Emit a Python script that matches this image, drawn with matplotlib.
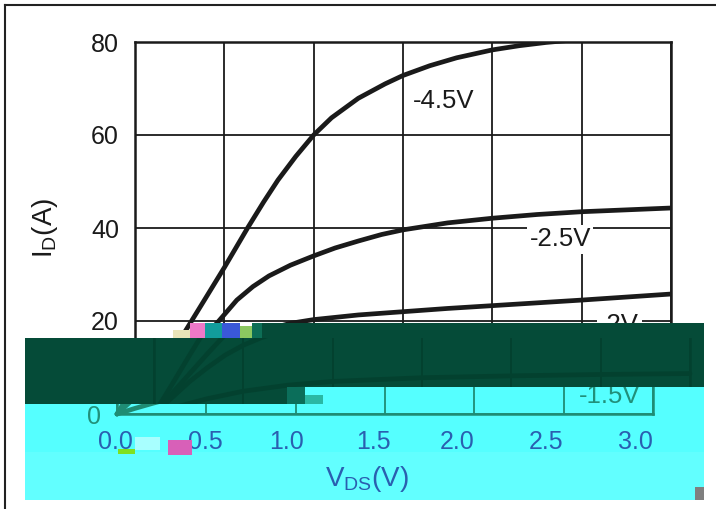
import matplotlib
matplotlib.use('Agg')
import matplotlib.pyplot as plt
from matplotlib.patches import Polygon, Rectangle
from matplotlib.lines import Line2D
from matplotlib.transforms import Bbox, TransformedBbox, ScaledTranslation

# output characteristics, I_D vs V_DS for each V_GS
vds_45 = [0, 0.1, 0.2, 0.31, 0.39, 0.5, 0.63, 0.72, 0.8, 0.9, 1.0, 1.1, 1.25, 1.4, 1.5, 1.65, 1.8, 2.0,
          2.15, 2.3, 2.5, 2.75, 3.0]
id_45 = [0, 6.3, 12.7, 19.6, 24.6, 31.5, 40, 45.6, 50.3, 55.4, 60, 63.7, 67.9, 71.0, 72.8, 74.9, 76.6, 78.3,
         79.2, 79.9, 80.6, 81.5, 82.3]

vds_25 = [0, 0.1, 0.2, 0.3, 0.46, 0.57, 0.66, 0.75, 0.87, 1.0, 1.12, 1.25, 1.38, 1.5, 1.75, 2.0, 2.25, 2.5,
          2.75, 3.0]
id_25 = [0, 4.4, 8.7, 13, 19.6, 24.5, 27.4, 29.7, 32.0, 34.0, 35.7, 37.2, 38.6, 39.6, 41.1, 42.1, 42.9, 43.5,
         43.9, 44.3]

vds_20 = [0, 0.1, 0.2, 0.3, 0.4, 0.5, 0.6, 0.75, 0.87, 1.0, 1.25, 1.5, 1.75, 2.0, 2.5, 3.0]
id_20 = [0, 3.5, 7, 10, 12.7, 14.8, 16.4, 18.3, 19.5, 20.3, 21.3, 22.0, 22.7, 23.3, 24.5, 25.8]

vds_15 = [0, 0.1, 0.2, 0.3, 0.5, 0.75, 1.0, 1.5, 2.0, 2.5, 3.0]
id_15 = [0, 1.2, 2.3, 3.3, 4.9, 6.2, 7.0, 7.8, 8.2, 8.5, 8.7]

curves = [(vds_45, id_45), (vds_25, id_25), (vds_20, id_20), (vds_15, id_15)]

label_text = ['-4.5V', '-2.5V', '-2V', '-1.5V']
label_x = [1.73, 2.38, 2.71, 2.76]
label_y = [67.3, 37.6, 19.1, 3.9]

x_ticks = [0, 0.5, 1.0, 1.5, 2.0, 2.5, 3.0]
x_ticklabels = ['0.0', '0.5', '1.0', '1.5', '2.0', '2.5', '3.0']
y_ticks = [0, 20, 40, 60, 80]
# the x tick label row sits slightly off its ticks in the damaged strip (px)
xtick_dx = [-2, -1, -9, -12, -17, -18, -18]

plt.rcParams['font.family'] = ['Liberation Sans', 'DejaVu Sans']

W, H = 716, 509
fig = plt.figure(figsize=(W / 100, H / 100), dpi=100)
fig.patch.set_facecolor('white')

def fx(x):
    return x / W

def fy(y):
    return 1 - y / H

AX = (135, 42, 671, 414)   # left, top, right, bottom in px

def make_axes(dx, z):
    ax = fig.add_axes([fx(AX[0] + dx), fy(AX[3]), (AX[2] - AX[0]) / W, (AX[3] - AX[1]) / H])
    ax.set_zorder(z)
    return ax

def draw_chart(ax, bg, line_c, text_c, xtick_c, face, show_xt, show_yt, show_lab, show_xl, show_yl):
    ax.set_facecolor(face)
    for v, i in curves:
        ax.plot(v, i, color=line_c, lw=3.4, solid_capstyle='round', solid_joinstyle='round')
    ax.set_xlim(0, 3)
    ax.set_ylim(0, 80)
    ax.set_xticks(x_ticks)
    ax.set_yticks(y_ticks)
    ax.set_xticklabels(x_ticklabels if show_xt else [''] * len(x_ticks))
    ax.set_yticklabels([str(t) if t in show_yt else '' for t in y_ticks])
    ax.tick_params(axis='both', length=0, pad=11.5, labelsize=18)
    ax.tick_params(axis='x', colors=xtick_c)
    ax.tick_params(axis='y', colors=text_c)
    if show_xt:
        for lab, d in zip(ax.get_xticklabels(), xtick_dx):
            lab.set_transform(lab.get_transform() + ScaledTranslation(d / 100, 0, fig.dpi_scale_trans))
    ax.grid(True, color=line_c, lw=1.3)
    for s in ax.spines.values():
        s.set_color(line_c)
        s.set_linewidth(1.8)
    for t, x, y in zip(label_text, label_x, label_y):
        if t in show_lab:
            ax.text(x, y, t, fontsize=18.5, color=text_c, ha='center', va='center', zorder=5,
                    bbox=dict(boxstyle='square,pad=0.1', fc=bg, ec='none'))
    if show_xl:
        ax.set_xlabel('V$_\\mathregular{DS}$(V)', fontsize=20, color=xtick_c, x=0.466, labelpad=7)
    if show_yl:
        ax.set_ylabel('I$_\\mathregular{D}$(A)', fontsize=20, color=text_c, labelpad=22)

def clip_to(ax, poly_px, box_px):
    poly = Polygon([(fx(x), fy(y)) for x, y in poly_px], closed=True, transform=fig.transFigure)
    x0, y0, x1, y1 = box_px
    box = TransformedBbox(Bbox.from_extents(fx(x0), fy(y1), fx(x1), fy(y0)), fig.transFigure)
    for art in ax.findobj(include_self=False):
        art.set_clip_on(True)
        art.set_clip_box(box)
        art.set_clip_path(poly)

def px_rect(x0, y0, x1, y1, color, z):
    fig.add_artist(Rectangle((fx(x0), fy(y1)), fx(x1) - fx(x0), fy(y0) - fy(y1),
                             transform=fig.transFigure, fc=color, ec='none', zorder=z))

# normal chart (texts hidden under the corrupted bands are left to the overlays)
ax = make_axes(0, 0)
draw_chart(ax, 'white', '#1a1a1a', '#1a1a1a', '#1a1a1a', 'white',
           False, [20, 40, 60, 80], ['-4.5V', '-2.5V', '-2V'], False, True)

# dark green corrupted band, content shifted right, barely visible
green_poly = [(25, 338), (260, 338), (260, 323), (704, 323), (704, 387), (300, 387), (300, 404), (25, 404)]
fig.add_artist(Polygon([(fx(x), fy(y)) for x, y in green_poly], closed=True,
                       transform=fig.transFigure, fc='#054b38', ec='none', zorder=1))
axg = make_axes(19, 2)
draw_chart(axg, '#054b38', '#03412f', '#03412f', '#03412f', 'none',
           False, [], [], False, False)
clip_to(axg, green_poly, (25, 338, 704, 404))

# cyan corrupted band, content shifted left
cyan_poly = [(25, 404), (300, 404), (300, 387), (704, 387), (704, 500), (25, 500)]
fig.add_artist(Polygon([(fx(x), fy(y)) for x, y in cyan_poly], closed=True,
                       transform=fig.transFigure, fc='#55ffff', ec='none', zorder=3))
px_rect(25, 452, 704, 500, '#62ffff', 3.1)
axc = make_axes(-18, 4)
draw_chart(axc, '#55ffff', '#1f8c74', '#21907a', '#2a5fb0', 'none',
           True, [0], ['-1.5V'], True, False)
clip_to(axc, cyan_poly, (25, 387, 704, 500))

# glitch blocks
for x0, y0, x1, y1, c in [(173, 330, 190, 338, '#e8e4b8'), (190, 323, 205, 338, '#ef78c8'),
                          (205, 323, 222, 338, '#129c9c'), (222, 323, 240, 338, '#3a58d8'),
                          (240, 326, 252, 338, '#8cc860'), (252, 323, 262, 338, '#0d6e56'),
                          (287, 387, 305, 404, '#0b6e5a'), (305, 395, 323, 404, '#2ab8a4'),
                          (118, 449, 135, 454, '#80e020'), (135, 437, 160, 450, '#a8ffff'),
                          (168, 440, 192, 455, '#d860b8'), (695, 487, 704, 500, '#7f7f7f')]:
    px_rect(x0, y0, x1, y1, c, 5)

# outer frame (top and left only)
fig.add_artist(Line2D([fx(5), fx(716)], [fy(4.5), fy(4.5)], transform=fig.transFigure,
                      color='#222222', lw=1.5, zorder=6))
fig.add_artist(Line2D([fx(4.5), fx(4.5)], [fy(4.5), fy(509)], transform=fig.transFigure,
                      color='#222222', lw=1.5, zorder=6))

fig.savefig('out.png', dpi=100)
